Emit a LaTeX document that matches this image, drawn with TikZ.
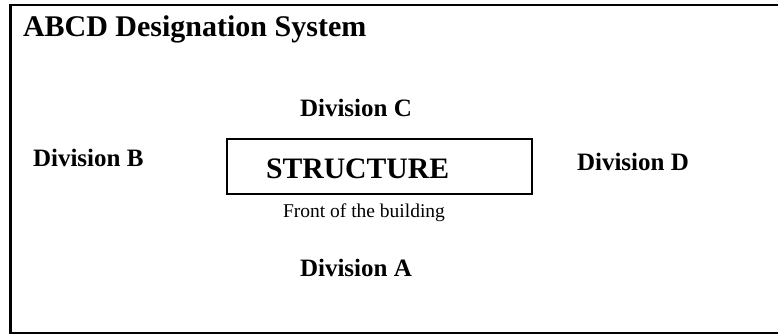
\documentclass[tikz,border=0pt]{standalone}
\usepackage{fontspec}
\setmainfont{Liberation Serif}
\begin{document}
\begin{tikzpicture}[x=1pt,y=-1pt,
  lbl/.style={anchor=base west,inner sep=0pt,outer sep=0pt},
  divlbl/.style={lbl,font=\fontsize{25}{28}\selectfont\bfseries},
  framebox/.style={draw,line width=2pt,inner sep=0pt,minimum width=305pt,minimum height=55pt}]
\useasboundingbox (0,0) rectangle (778,335);
\clip (0,0) rectangle (778,335);
\draw[line width=2pt] (800,5) -- (10.5,5) -- (10.5,333) -- (800,333);
\draw[line width=3pt] (10.5,4) -- (10.5,334);
\node[lbl,font=\fontsize{30}{34}\selectfont\bfseries] (title) at (23,36) {ABCD Designation System};
\node[framebox] (box) at (379,166.5) {};
\node[lbl,font=\fontsize{29.7}{34}\selectfont\bfseries] (structure) at (266,178) {STRUCTURE};
\node[lbl,font=\fontsize{19.5}{22}\selectfont] (front) at (283,217) {Front of the building};
\node[divlbl] (divC) at (300,116.5) {Division C};
\node[divlbl] (divB) at (33,166) {Division B};
\node[divlbl] (divD) at (577,170) {Division D};
\node[divlbl] (divA) at (300,276) {Division A};
\end{tikzpicture}
\end{document}
